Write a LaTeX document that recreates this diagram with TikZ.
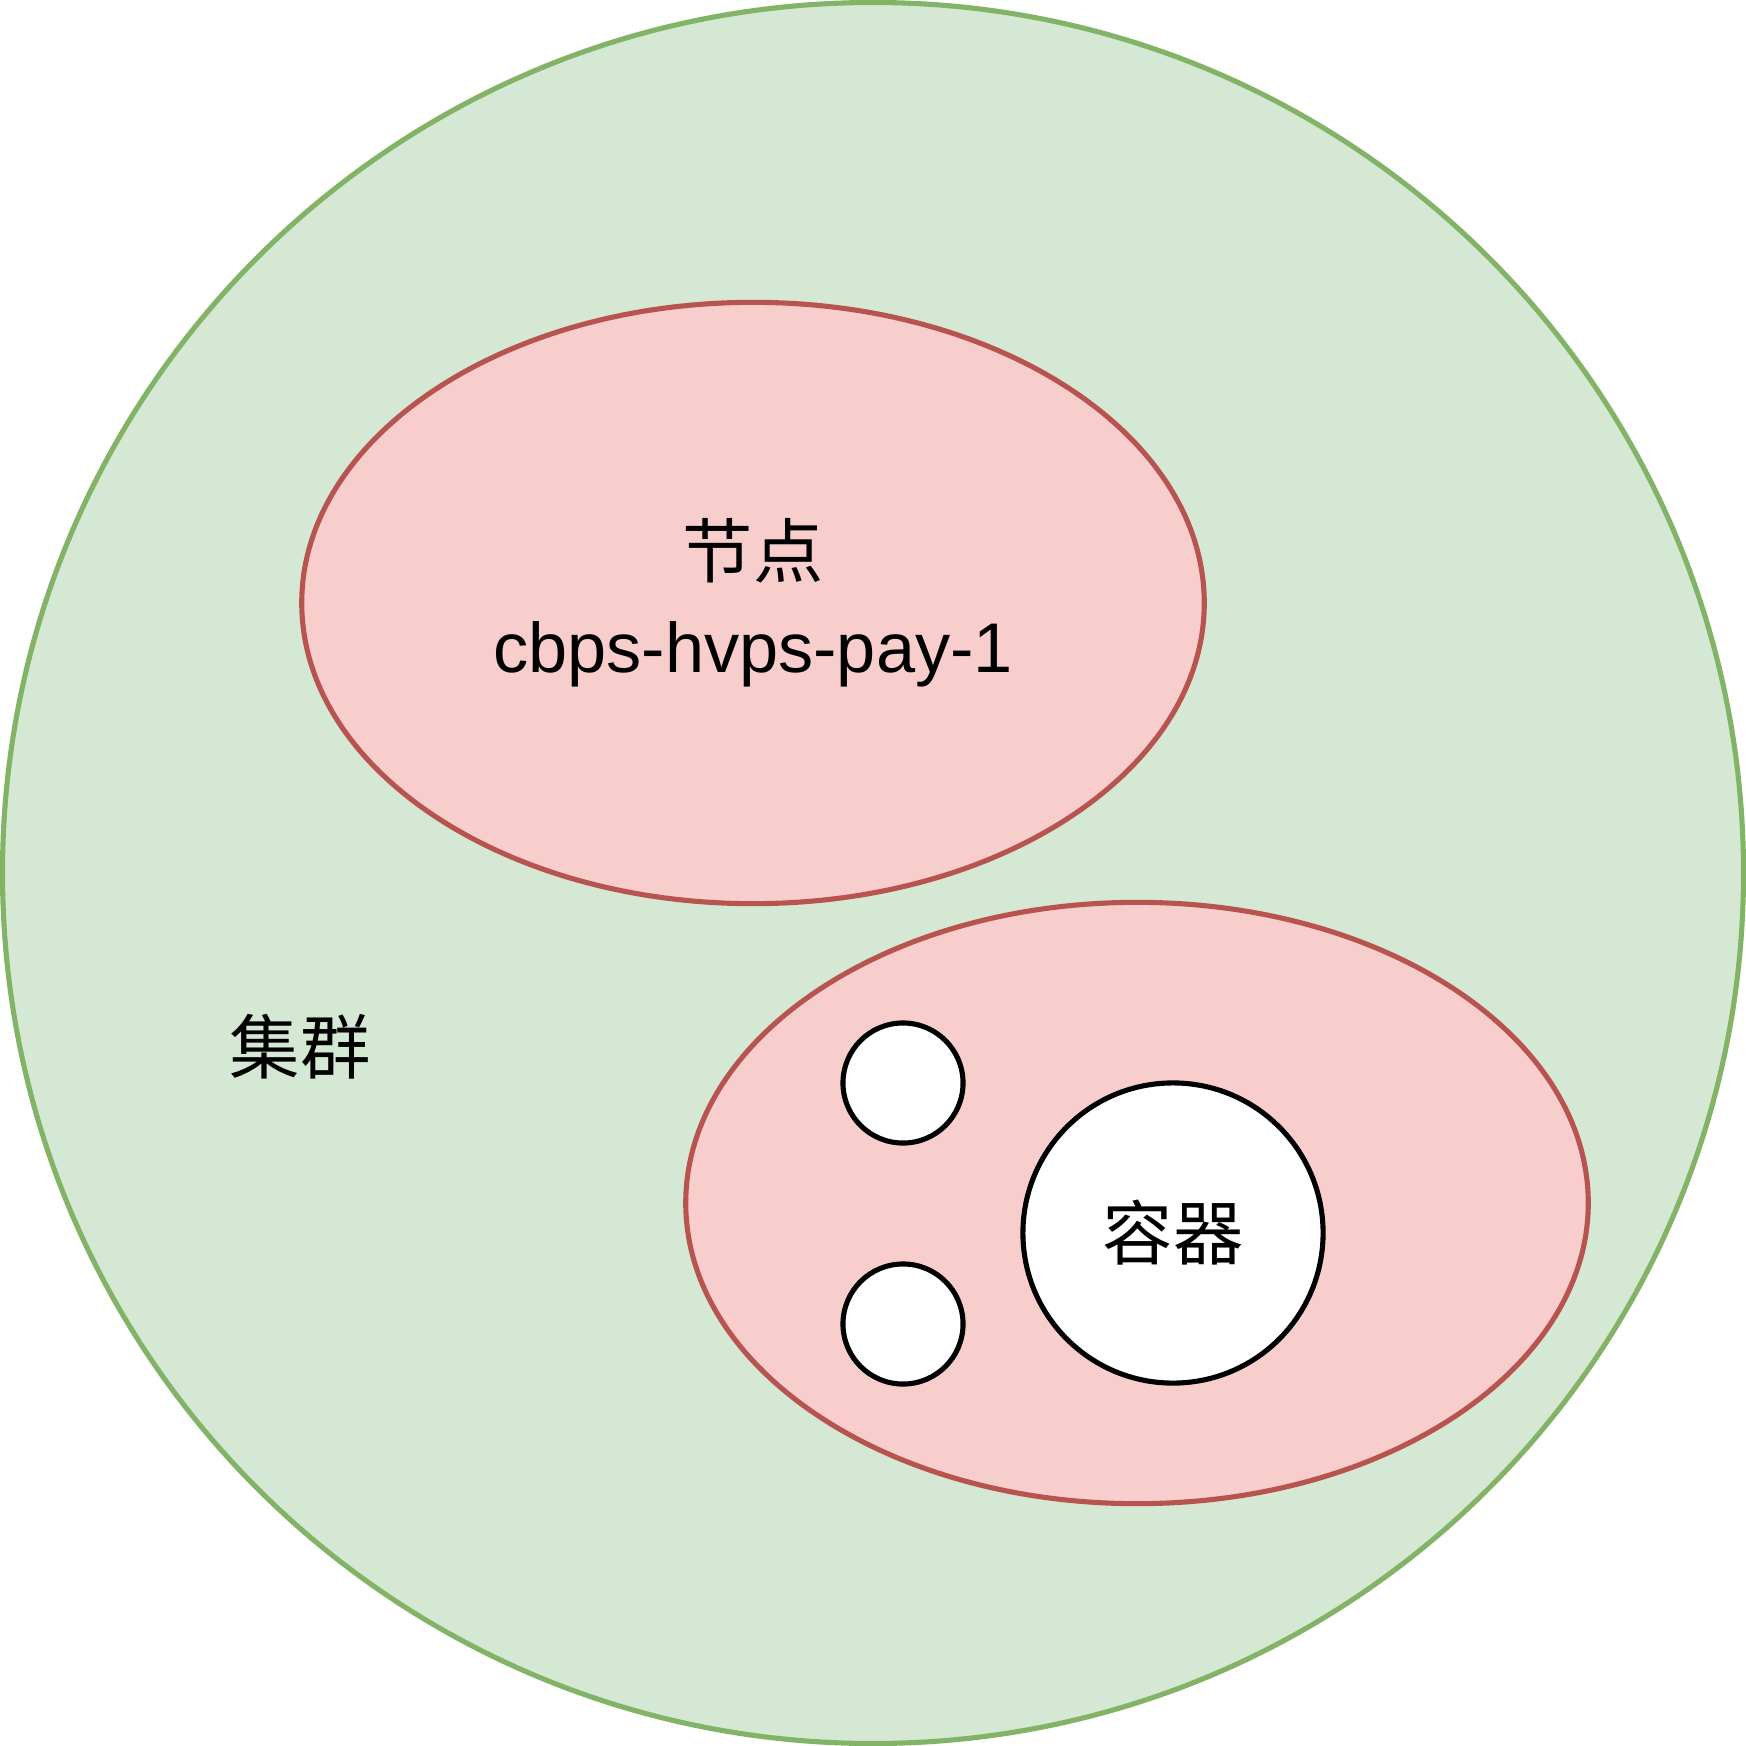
\documentclass[tikz,border=0pt]{standalone}
\usepackage{fontspec}
\setmainfont{Liberation Sans}
\newfontfamily\cjk{Noto Sans CJK SC}
\usetikzlibrary{shapes.geometric}
\definecolor{gfill}{HTML}{D5E8D4}
\definecolor{gline}{HTML}{82B366}
\definecolor{rfill}{HTML}{F8CECC}
\definecolor{rline}{HTML}{B85450}
\tikzset{
  cluster/.style={circle, draw=gline, fill=gfill, line width=1.45pt, inner sep=0pt},
  nodeell/.style={ellipse, draw=rline, fill=rfill, line width=1.45pt, inner sep=0pt, minimum width=9.02cm, minimum height=6.01cm, align=center, font=\fontsize{20}{25}\selectfont},
  pod/.style={circle, draw=black, fill=white, line width=1.45pt, inner sep=0pt},
  lbl/.style={font=\fontsize{20}{25}\selectfont\cjk, inner sep=0pt}
}
\begin{document}
\begin{tikzpicture}[x=0.01cm,y=-0.01cm]
\useasboundingbox (0,0) rectangle (1746,1746);
\node[cluster, minimum size=17.4cm] (cl) at (873,873) {};
\node[lbl] (cltext) at (300,1047) {集群};
\node[nodeell] (n1) at (753,603) {{\cjk 节点}\\[2pt]cbps-hvps-pay-1};
\node[nodeell] (n2) at (1137,1203) {};
\node[pod, minimum size=1.2cm] (p1) at (903,1083) {};
\node[pod, minimum size=1.2cm] (p2) at (903,1324) {};
\node[pod, minimum size=3.0cm, lbl] (p3) at (1173,1233) {容器};
\end{tikzpicture}
\end{document}
